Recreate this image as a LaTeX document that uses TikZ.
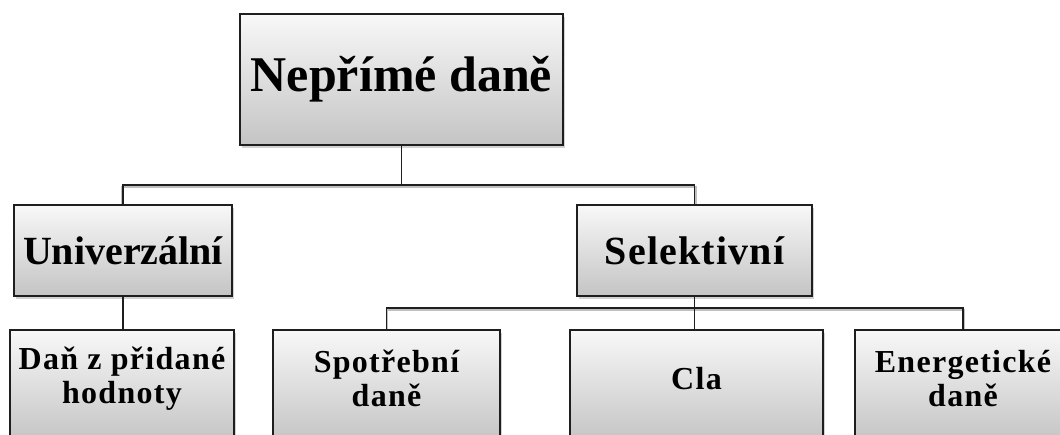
\documentclass[tikz,border=0pt]{standalone}
\usepackage{fontspec}
\setmainfont{Liberation Serif}
\usetikzlibrary{shadows,calc}
\definecolor{boxtop}{RGB}{248,248,248}
\definecolor{boxbot}{RGB}{196,196,196}
\definecolor{edge}{RGB}{30,30,30}
\tikzset{
  box/.style={draw=edge, line width=1.3pt, top color=boxtop, bottom color=boxbot,
    inner sep=0pt, align=center, font=\bfseries,
    drop shadow={opacity=0.35, shadow xshift=2pt, shadow yshift=-3pt}},
  lbl/.style={inner sep=0pt, align=center},
  small/.style={font=\bfseries\fontsize{32}{34}\selectfont\addfontfeature{LetterSpace=4}},
  conn/.style={draw=edge, line width=1.3pt},
  connsh/.style={draw=black!25, line width=1.6pt},
}
\begin{document}
\begin{tikzpicture}[x=1pt,y=-1pt]
\useasboundingbox (0,0) rectangle (1060,434);
\clip (0,0) rectangle (1060,434);
\fill[white] (0,0) rectangle (1060,434);
% connector shadows
\coordinate (b1) at (401.5,185);
\coordinate (b2) at (695,308);
\coordinate (b1s) at (402.5,187);
\coordinate (b2s) at (696,310);
\draw[connsh] (122,205) |- (b1s) -| (696,205);
\draw[connsh] (387.5,331) |- (b2s) -| (964,331);
% boxes
\node[box, minimum width=323pt, minimum height=131pt] (top) at (401.5,79.5)
  {\fontsize{50}{60}\selectfont Nepřímé daně};
\node[box, minimum width=218pt, minimum height=91pt] (univ) at (123,250.5)
  {\fontsize{40}{48}\selectfont Univerzální};
\node[box, minimum width=235pt, minimum height=91pt] (sel) at (694.5,250.5)
  {\fontsize{40}{48}\selectfont\addfontfeature{LetterSpace=3}Selektivní};
\node[box, minimum width=224pt, minimum height=112pt] (dph) at (122,386) {};
\node[box, minimum width=227pt, minimum height=112pt] (spot) at (386.5,386) {};
\node[box, minimum width=253pt, minimum height=112pt] (cla) at (696.5,386) {};
\node[box, minimum width=216pt, minimum height=112pt] (ene) at (963,386) {};
% labels in lower boxes
\node[lbl, small] (dphT) at ($(dph.north)+(0,49)$) {Daň z přidané\\hodnoty};
\node[lbl, small] (spotT) at ($(spot.north)+(0,49)$) {Spotřební\\daně};
\node[lbl, small] (claT) at ($(cla.north)+(0,49)$) {Cla};
\node[lbl, small] (eneT) at ($(ene.north)+(0,49)$) {Energetické\\daně};
% connectors
\draw[conn] (top.south) -- (b1);
\draw[conn] (univ.north) |- (b1) -| (sel.north);
\draw[conn] (univ.south) -- (univ.south |- dph.north);
\draw[conn] (sel.south) -- (sel.south |- cla.north);
\draw[conn] (spot.north) |- (b2) -| (ene.north);
\end{tikzpicture}
\end{document}
